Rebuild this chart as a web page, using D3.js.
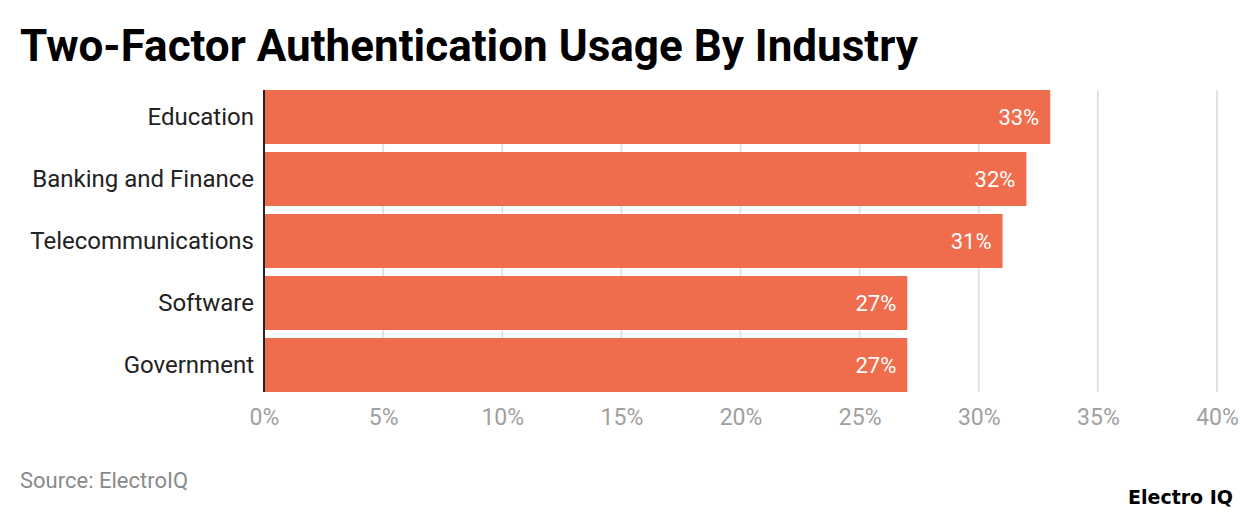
<!DOCTYPE html>
<html><head><meta charset="utf-8">
<script src="https://cdn.jsdelivr.net/npm/d3@7"></script>
<style>body{margin:0;background:#fff;} svg{display:block;}</style>
</head><body>
<svg id="c" width="1240" height="514"></svg>
<script>
const categories = ["Education", "Banking and Finance", "Telecommunications", "Software", "Government"];
const values = [33, 32, 31, 27, 27];
const tickValues = [0, 5, 10, 15, 20, 25, 30, 35, 40];
const title = "Two-Factor Authentication Usage By Industry";
const source = "Source: ElectroIQ";
const brand = "Electro IQ";

const svg = d3.select("#c");
const x = d3.scaleLinear().domain([0, 40]).range([264, 1217]);
const y = d3.scaleBand().domain(categories).range([90, 392]).paddingInner(0.13).paddingOuter(0);

svg.append("text").attr("x", 20).attr("y", 61)
  .attr("font-family", "Roboto").attr("font-weight", 700).attr("font-size", 44)
  .attr("fill", "#000").text(title);

// gridlines
svg.append("g").selectAll("line").data(tickValues.filter(d => d > 0)).join("line")
  .attr("x1", d => x(d)).attr("x2", d => x(d))
  .attr("y1", 90).attr("y2", 392)
  .attr("stroke", "#e3e3e3").attr("stroke-width", 2);

// bars
svg.append("g").selectAll("rect").data(values).join("rect")
  .attr("x", x(0)).attr("y", (d, i) => y(categories[i]))
  .attr("width", d => x(d) - x(0)).attr("height", y.bandwidth())
  .attr("fill", "#ef6c4c");

// value labels
svg.append("g").selectAll("text").data(values).join("text")
  .attr("x", d => x(d) - 11).attr("y", (d, i) => y(categories[i]) + y.bandwidth() / 2)
  .attr("dy", "0.35em").attr("text-anchor", "end")
  .attr("font-family", "Roboto").attr("font-size", 22).attr("fill", "#fff")
  .text(d => d + "%");

// y axis
const yAxis = svg.append("g").attr("transform", `translate(${x(0)},0)`)
  .call(d3.axisLeft(y).tickSize(0).tickPadding(10));
yAxis.select(".domain").attr("stroke", "#222").attr("stroke-width", 2)
  .attr("d", "M0,90V392");
yAxis.selectAll("text").attr("font-family", "Roboto").attr("font-size", 24).attr("fill", "#222");

// x axis
const xAxis = svg.append("g").attr("transform", "translate(0,392)")
  .call(d3.axisBottom(x).tickValues(tickValues).tickSize(0).tickPadding(17).tickFormat(d => d + "%"));
xAxis.select(".domain").remove();
xAxis.selectAll("text").attr("font-family", "Roboto").attr("font-size", 23).attr("fill", "#a0a0a0");

svg.append("text").attr("x", 20).attr("y", 488)
  .attr("font-family", "Roboto").attr("font-size", 22).attr("fill", "#8a8a8a").text(source);

svg.append("text").attr("x", 1233).attr("y", 504).attr("text-anchor", "end")
  .attr("font-family", "DejaVu Sans").attr("font-weight", 700).attr("font-size", 19)
  .attr("fill", "#000").text(brand);
</script>
</body></html>
